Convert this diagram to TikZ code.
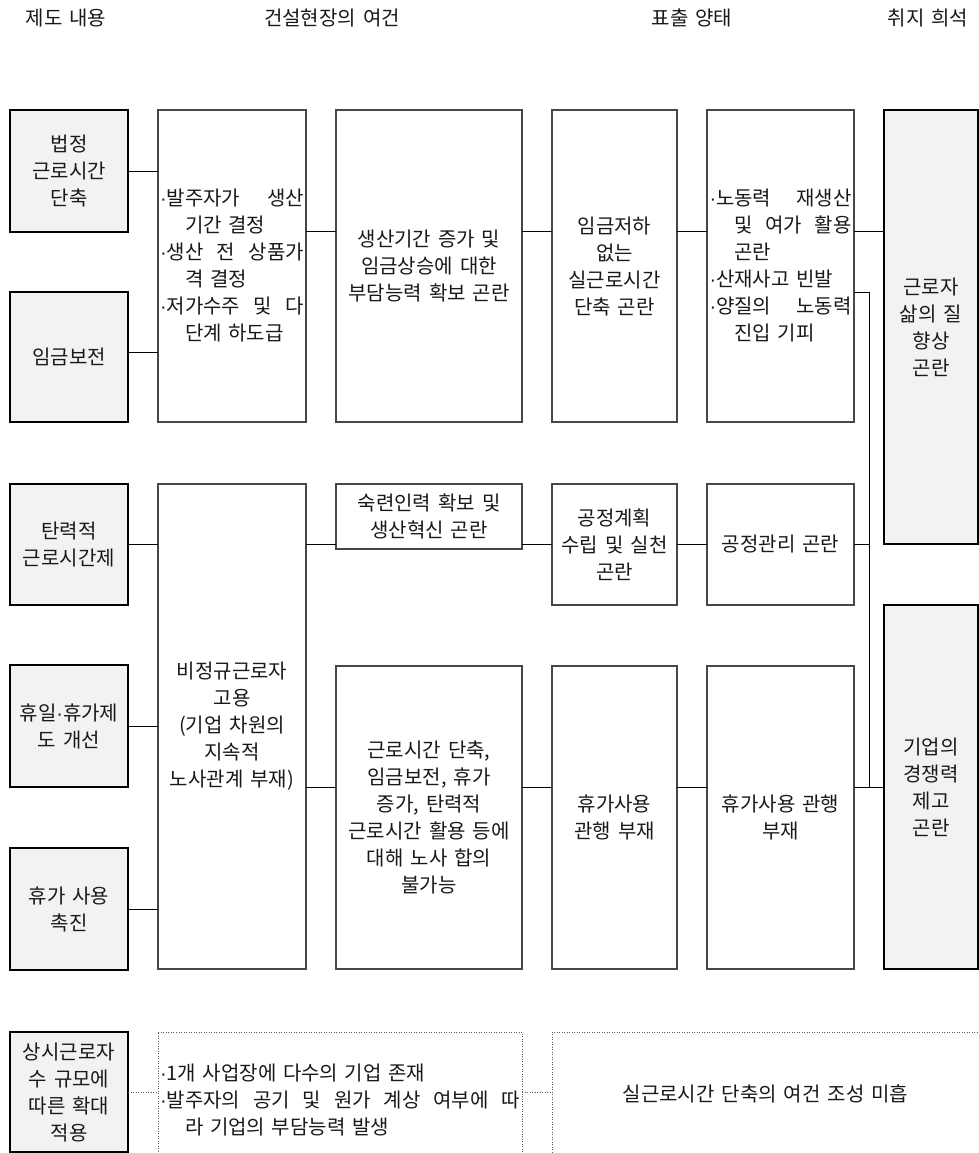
\documentclass[tikz,border=0pt]{standalone}
\usepackage{fontspec}
\setmainfont{Noto Sans CJK KR}
\newfontfamily\dotfont{Liberation Sans}
\newcommand{\kfont}{\fontsize{20}{27}\selectfont\spaceskip=7pt plus 2pt\relax}
\newcommand{\bul}{{\dotfont ·}}
\begin{document}
\begin{tikzpicture}[x=1pt,y=-1pt,
  every node/.style={font=\kfont, text=black!90, inner sep=0pt, outer sep=0pt},
  gbox/.style={draw=black, line width=2.8pt, fill=black!5, align=center},
  wbox/.style={draw=black!72, line width=1.1pt, fill=white, align=center},
  dbox/.style={draw=black!65, line width=1pt, dash pattern=on 1pt off 1.5pt, align=center},
  conn/.style={line width=1pt, black},
  dconn/.style={line width=1pt, black!65, dash pattern=on 1pt off 1.5pt},
  hdr/.style={font=\kfont}
]
\useasboundingbox (0,0) rectangle (979,1153);
\fill[white] (0,0) rectangle (979,1153);

% headers
\node[hdr] (h1) at (66,18) {제도 내용};
\node[hdr] (h2) at (332,18) {건설현장의 여건};
\node[hdr] (h3) at (692,18) {표출 양태};
\node[hdr] (h4) at (928,18) {취지 희석};

% level coordinates
\coordinate (r1) at (0,231);
\coordinate (r2) at (0,292);
\coordinate (rA2) at (0,352);
\coordinate (r3) at (0,544);
\coordinate (r4) at (0,787);
\coordinate (r5) at (0,1092);
\coordinate (bus) at (869,0);

% left gray boxes
\node[gbox, minimum width=118pt, minimum height=122pt] (A1) at (69,171) {법정\\근로시간\\단축};
\node[gbox, minimum width=118pt, minimum height=130pt] (A2) at (69,357) {임금보전};
\node[gbox, minimum width=118pt, minimum height=121pt] (A3) at (69,544.5) {탄력적\\근로시간제};
\node[gbox, minimum width=118pt, minimum height=122pt] (A4) at (69,726) {휴일\bul 휴가제\\도 개선};
\node[gbox, minimum width=118pt, minimum height=122pt] (A5) at (69,909) {휴가 사용\\촉진};
\node[gbox, minimum width=118pt, minimum height=120pt] (A6) at (69,1092) {상시근로자\\수 규모에\\따른 확대\\적용};

% column B
\node[wbox, minimum width=148pt, minimum height=312pt, text width=144pt, align=left] (B1) at (232,266) {%
\makebox[144pt]{\bul 발주자가\hfill 생산}\\
\hspace*{25pt}기간 결정\\
\makebox[144pt]{\bul 생산\hfill 전\hfill 상품가}\\
\hspace*{25pt}격 결정\\
\makebox[144pt]{\bul 저가수주\hfill 및\hfill 다}\\
\hspace*{25pt}단계 하도급};
\node[wbox, minimum width=148pt, minimum height=485pt] (B2) at (232,726.5) {비정규근로자\\고용\\(기업 차원의\\지속적\\노사관계 부재)};

% column C
\node[wbox, minimum width=186pt, minimum height=312pt] (C1) at (429,266) {생산기간 증가 및\\임금상승에 대한\\부담능력 확보 곤란};
\node[wbox, minimum width=186pt, minimum height=65pt] (C2) at (429,516.5) {숙련인력 확보 및\\생산혁신 곤란};
\node[wbox, minimum width=186pt, minimum height=303pt] (C3) at (429,817.5) {근로시간 단축,\\임금보전, 휴가\\증가, 탄력적\\근로시간 활용 등에\\대해 노사 합의\\불가능};

% column D
\node[wbox, minimum width=125pt, minimum height=312pt] (D1) at (614.5,266) {임금저하\\없는\\실근로시간\\단축 곤란};
\node[wbox, minimum width=125pt, minimum height=121pt] (D2) at (614.5,544.5) {공정계획\\수립 및 실천\\곤란};
\node[wbox, minimum width=125pt, minimum height=303pt] (D3) at (614.5,817.5) {휴가사용\\관행 부재};

% column E
\node[wbox, minimum width=147pt, minimum height=312pt, text width=142pt, align=left] (E1) at (780.5,266) {%
\makebox[142pt]{\bul 노동력\hfill 재생산}\\
\hspace*{25pt}\makebox[117pt]{및\hfill 여가\hfill 활용}\\
\hspace*{25pt}곤란\\
\bul 산재사고 빈발\\
\makebox[142pt]{\bul 양질의\hfill 노동력}\\
\hspace*{25pt}진입 기피};
\node[wbox, minimum width=147pt, minimum height=121pt] (E2) at (780.5,544.5) {공정관리 곤란};
\node[wbox, minimum width=147pt, minimum height=303pt] (E3) at (780.5,817.5) {휴가사용 관행\\부재};

% column F
\node[gbox, minimum width=94pt, minimum height=434pt] (F1) at (931,327) {근로자\\삶의 질\\향상\\곤란};
\node[gbox, minimum width=94pt, minimum height=364pt] (F2) at (931,787) {기업의\\경쟁력\\제고\\곤란};

% bottom dotted boxes
\node[dbox, minimum width=364pt, minimum height=136pt, text width=360pt, align=left] (G1) at (340,1100) {%
\bul 1개 사업장에 다수의 기업 존재\\
\makebox[360pt]{\bul 발주자의\hfill 공기\hfill 및\hfill 원가\hfill 계상\hfill 여부에\hfill 따}\\
\hspace*{25pt}라 기업의 부담능력 발생};
\node[dbox, minimum width=427pt, minimum height=124pt] (G2) at (765.5,1094) {실근로시간 단축의 여건 조성 미흡};

% connectors, top block
\draw[conn] (A1.east) -- (A1.east -| B1.west);
\draw[conn] (A2.east |- rA2) -- (B1.west |- rA2);
\draw[conn] (B1.east |- r1) -- (C1.west |- r1);
\draw[conn] (C1.east |- r1) -- (D1.west |- r1);
\draw[conn] (D1.east |- r1) -- (E1.west |- r1);
\draw[conn] (E1.east |- r1) -- (F1.west |- r1);
\draw[conn] (E1.east |- r2) -- (bus |- r2) -- (bus |- r4);

% middle row
\draw[conn] (A3.east |- r3) -- (B2.west |- r3);
\draw[conn] (B2.east |- r3) -- (C2.west |- r3);
\draw[conn] (C2.east |- r3) -- (D2.west |- r3);
\draw[conn] (D2.east |- r3) -- (E2.west |- r3);
\draw[conn] (E2.east |- r3) -- (bus |- r3);

% lower block
\draw[conn] (A4.east) -- (A4.east -| B2.west);
\draw[conn] (A5.east) -- (A5.east -| B2.west);
\draw[conn] (B2.east |- r4) -- (C3.west |- r4);
\draw[conn] (C3.east |- r4) -- (D3.west |- r4);
\draw[conn] (D3.east |- r4) -- (E3.west |- r4);
\draw[conn] (E3.east |- r4) -- (F2.west |- r4);

% bottom row
\draw[dconn] (A6.east |- r5) -- (G1.west |- r5);
\draw[dconn] (G1.east |- r5) -- (G2.west |- r5);
\end{tikzpicture}
\end{document}
